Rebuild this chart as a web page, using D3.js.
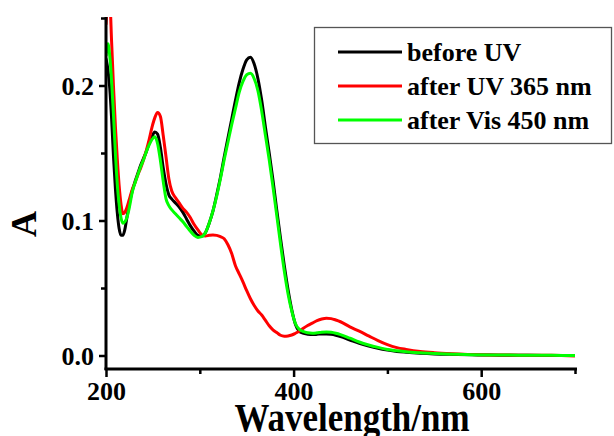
<!DOCTYPE html>
<html>
<head>
<meta charset="utf-8">
<script src="https://cdn.jsdelivr.net/npm/d3@7"></script>
<style>
  html, body { margin: 0; padding: 0; background: #fff; }
  svg { display: block; }
  text { font-family: "Liberation Serif", "Times New Roman", serif; font-weight: bold; fill: #000; }
</style>
</head>
<body>
<script>
// Absorption spectra (wavelength in nm, absorbance A)
const wavelengths = [200,202,204,206,208,210,212,214,216,218,220,222,
  225,228,231,234,237,240,243,246,249,252,255,258,261,264,267,270,
  274,278,282,286,290,294,298,302,306,310,314,318,322,326,330,334,338,342,346,350,354,358,362,366,370,374,378,382,386,390,394,398,402,406,410,
  415,420,425,430,435,440,445,450,
  460,470,480,490,500,510,520,
  535,550,570,590,610,630,650,675,700];

const beforeUV = [0.220,0.212,0.198,0.175,0.147,0.124,0.106,0.094,0.089,0.089,0.093,0.101,
  0.113,0.122,0.129,0.135,0.141,0.146,0.151,0.157,0.162,0.1655,0.164,0.154,0.139,0.127,0.119,0.116,
  0.113,0.110,0.106,0.101,0.096,0.092,0.089,0.0885,0.091,0.098,0.107,0.119,0.132,0.147,0.161,0.175,0.189,0.202,0.212,0.219,0.221,0.216,0.205,0.189,0.169,0.150,0.130,0.108,0.087,0.067,0.049,0.034,0.023,0.018,0.0165,
  0.0158,0.0155,0.0157,0.016,0.016,0.0157,0.015,0.014,
  0.0115,0.009,0.007,0.0053,0.004,0.003,0.0024,
  0.0017,0.0012,0.0008,0.0005,0.0003,0.0002,0.0001,0.0,0.0];

const afterUV365 = [0.245,0.262,0.262,0.232,0.199,0.170,0.146,0.126,0.112,0.105,0.106,0.109,
  0.116,0.123,0.128,0.134,0.139,0.145,0.152,0.160,0.169,0.176,0.180,0.177,0.163,0.147,0.131,0.122,
  0.117,0.113,0.109,0.106,0.102,0.097,0.093,0.0895,0.0885,0.089,0.0893,0.089,0.088,0.0865,0.082,0.0755,0.0665,0.0605,0.0545,0.048,0.042,0.037,0.033,0.030,0.026,0.022,0.019,0.017,0.015,0.0143,0.0145,0.0152,0.0165,0.018,0.020,
  0.0222,0.024,0.0258,0.027,0.0276,0.0273,0.0263,0.025,
  0.0212,0.018,0.0145,0.011,0.008,0.0058,0.0045,
  0.003,0.0021,0.0013,0.0007,0.0004,0.0003,0.0002,0.0001,-0.0003];

const afterVis450 = [0.222,0.231,0.222,0.203,0.178,0.150,0.127,0.112,0.102,0.098,0.099,0.1016,
  0.110,0.121,0.128,0.134,0.140,0.145,0.151,0.156,0.160,0.162,0.157,0.1445,0.129,0.116,0.111,0.108,
  0.105,0.102,0.099,0.0955,0.092,0.089,0.0875,0.088,0.091,0.098,0.107,0.118,0.131,0.145,0.158,0.171,0.183,0.195,0.203,0.208,0.209,0.205,0.196,0.181,0.163,0.145,0.125,0.104,0.083,0.063,0.046,0.033,0.0235,0.0195,0.0178,
  0.0168,0.0165,0.0168,0.0173,0.0175,0.0172,0.0165,0.0155,
  0.0128,0.010,0.0078,0.006,0.0045,0.0035,0.0027,
  0.002,0.0015,0.001,0.0006,0.0004,0.0003,0.0002,0.0001,0.0];

const seriesNames = ["before UV", "after UV 365 nm", "after Vis 450 nm"];
const seriesColors = ["#000000", "#ff0000", "#00ff00"];
const seriesValues = [beforeUV, afterUV365, afterVis450];

const xTicks = [200, 300, 400, 500, 600, 700];
const xTickLabels = {200: "200", 400: "400", 600: "600"};
const yTicks = [0, 0.05, 0.1, 0.15, 0.2, 0.25];
const yTickLabels = {0: "0.0", 0.1: "0.1", 0.2: "0.2"};

const W = 614, H = 436;
const svg = d3.select("body").append("svg").attr("width", W).attr("height", H);

const x = d3.scaleLinear().domain([200, 700]).range([106, 575]);
const y = d3.scaleLinear().domain([-0.01, 0.25]).range([369, 18]);

// clip for the curves
svg.append("clipPath").attr("id", "plot")
  .append("rect").attr("x", 106).attr("y", 17).attr("width", 472).attr("height", 352);

const line = d3.line()
  .x(d => x(d[0])).y(d => y(d[1]))
  .curve(d3.curveMonotoneX);

const curves = svg.append("g").attr("clip-path", "url(#plot)");
seriesValues.forEach((vals, i) => {
  curves.append("path")
    .datum(wavelengths.map((w, k) => [w, vals[k]]))
    .attr("fill", "none")
    .attr("stroke", seriesColors[i])
    .attr("stroke-width", 3)
    .attr("stroke-linejoin", "round")
    .attr("d", line);
});

// Y axis
const yAxis = d3.axisLeft(y).tickValues(yTicks).tickSize(7).tickPadding(5).tickSizeOuter(0)
  .tickFormat(v => yTickLabels[Math.round(v * 100) / 100] || "");
const gy = svg.append("g").attr("transform", "translate(106,0)").call(yAxis);
gy.select(".domain").attr("stroke-width", 3).attr("d", "M0,17V370");
gy.selectAll(".tick line").attr("stroke-width", 2.5)
  .attr("x2", v => (yTickLabels[Math.round(v * 100) / 100] ? -7 : -5));
gy.selectAll(".tick text").style("font-size", "26px").attr("font-family", null).attr("dy", "0.36em");

// X axis
const xAxis = d3.axisBottom(x).tickValues(xTicks).tickSize(8).tickPadding(5).tickSizeOuter(0)
  .tickFormat(v => xTickLabels[v] || "");
const gx = svg.append("g").attr("transform", "translate(0,369)").call(xAxis);
gx.select(".domain").attr("stroke-width", 3).attr("d", "M104.5,0H577");
gx.selectAll(".tick line").attr("stroke-width", 2.5)
  .attr("y2", v => (v % 200 === 0 ? 8 : 5));
gx.selectAll(".tick text").style("font-size", "26px").attr("font-family", null);

// axis titles
svg.append("text")
  .attr("transform", "translate(352,431) scale(1,1.12)")
  .attr("text-anchor", "middle")
  .style("font-size", "35px")
  .text("Wavelength/nm");

svg.append("text")
  .attr("transform", "translate(36,224) rotate(-90)")
  .attr("text-anchor", "middle")
  .style("font-size", "36px")
  .text("A");

// legend
const legend = svg.append("g");
legend.append("rect")
  .attr("x", 314.5).attr("y", 27.5).attr("width", 297).attr("height", 116)
  .attr("fill", "#fff").attr("stroke", "#555").attr("stroke-width", 1.3);
const rowY = [52, 86, 120];
seriesNames.forEach((name, i) => {
  legend.append("line")
    .attr("x1", 338).attr("x2", 402).attr("y1", rowY[i]).attr("y2", rowY[i])
    .attr("stroke", seriesColors[i]).attr("stroke-width", 3);
  legend.append("text")
    .attr("x", 407).attr("y", rowY[i] + 9)
    .style("font-size", "26px")
    .text(name);
});
</script>
</body>
</html>
